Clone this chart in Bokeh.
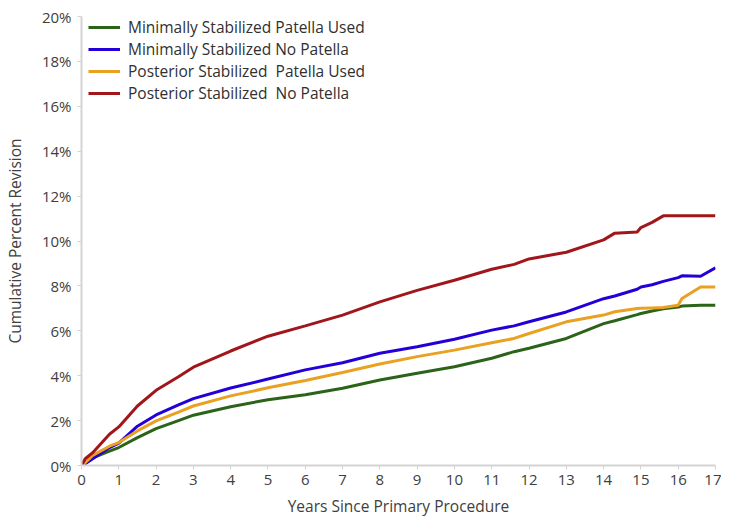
from bokeh.plotting import figure
from bokeh.models import Range1d, FixedTicker, PrintfTickFormatter, Legend, LegendItem
from bokeh.embed import file_html
from bokeh.resources import INLINE

years = [0, 0.1, 0.3, 0.75, 1, 1.5, 2, 2.6, 3, 4, 5, 6, 7, 8, 9, 10, 11, 11.6, 12, 13, 14,
         14.3, 14.9, 15, 15.3, 15.6, 16, 16.1, 16.6, 17]

ms_patella = [0, 0.10, 0.34, 0.64, 0.80, 1.24, 1.64, 2.00, 2.24, 2.62, 2.93, 3.15, 3.44, 3.81, 4.11, 4.40,
              4.78, 5.07, 5.22, 5.66, 6.32, 6.45, 6.72, 6.77, 6.88, 6.98, 7.06, 7.10, 7.14, 7.14]
ms_nopatella = [0, 0.08, 0.30, 0.80, 1.00, 1.75, 2.25, 2.70, 2.98, 3.45, 3.85, 4.26, 4.58, 5.00, 5.29, 5.62,
                6.03, 6.22, 6.40, 6.84, 7.43, 7.55, 7.85, 7.95, 8.05, 8.20, 8.37, 8.45, 8.43, 8.81]
ps_patella = [0, 0.12, 0.45, 0.86, 1.02, 1.54, 1.99, 2.38, 2.65, 3.10, 3.46, 3.79, 4.14, 4.52, 4.85, 5.14,
              5.47, 5.66, 5.88, 6.40, 6.70, 6.85, 6.99, 7.00, 7.02, 7.04, 7.14, 7.44, 7.95, 7.95]
ps_nopatella = [0, 0.30, 0.57, 1.39, 1.72, 2.65, 3.35, 3.95, 4.38, 5.10, 5.76, 6.22, 6.70, 7.29, 7.80, 8.25,
                8.74, 8.96, 9.20, 9.50, 10.05, 10.35, 10.40, 10.60, 10.83, 11.12, 11.12, 11.12, 11.12, 11.12]

series_names = ["Minimally Stabilized Patella Used", "Minimally Stabilized No Patella",
                "Posterior Stabilized  Patella Used", "Posterior Stabilized  No Patella"]
series_colors = ["#2b6419", "#2400d8", "#eaa020", "#a0161a"]

x_ticks = list(range(0, 18))
y_ticks = list(range(0, 21, 2))

FONT = "Open Sans"
TXT = "#404040"
FRAME_H = 449

p = figure(frame_width=634, frame_height=FRAME_H, output_backend="svg", toolbar_location=None,
           x_range=Range1d(0, 17), y_range=Range1d(0, 20),
           min_border_left=73, min_border_right=6, min_border_top=16, min_border_bottom=10)
p.outline_line_color = None
p.grid.grid_line_color = None
p.background_fill_color = "white"

items = []
for vals, name, col in zip([ms_patella, ms_nopatella, ps_patella, ps_nopatella], series_names, series_colors):
    r = p.line(years, vals, line_color=col, line_width=3)
    items.append(LegendItem(label=name, renderers=[r]))

ROW = 20
legend = Legend(items=items, border_line_color=None,
                background_fill_alpha=0, label_text_font=FONT, label_text_font_size="15.5px",
                label_text_color="#303030", glyph_width=32, glyph_height=ROW, spacing=-1,
                label_height=ROW, padding=0, margin=0, label_standoff=8,
                location=(7, FRAME_H - 4 * ROW - 8))
p.add_layout(legend)

p.xaxis.ticker = FixedTicker(ticks=x_ticks)
p.yaxis.ticker = FixedTicker(ticks=y_ticks)
p.yaxis.formatter = PrintfTickFormatter(format="%d%%")
for ax in [p.xaxis[0], p.yaxis[0]]:
    ax.axis_line_color = "#d4d4d4"
    ax.axis_line_width = 2
    ax.major_tick_line_color = "#d4d4d4"
    ax.major_tick_in = 0
    ax.major_tick_out = 4
    ax.minor_tick_line_color = None
    ax.major_label_text_font = FONT
    ax.major_label_text_font_size = "15px"
    ax.major_label_text_color = TXT
    ax.axis_label_text_font = FONT
    ax.axis_label_text_font_size = "15.5px"
    ax.axis_label_text_color = TXT
    ax.axis_label_text_font_style = "normal"

p.xaxis.axis_label = "Years Since Primary Procedure"
p.yaxis.axis_label = "Cumulative Percent Revision"
p.xaxis.major_label_standoff = 5
p.xaxis.axis_label_standoff = 7
p.yaxis.major_label_standoff = 6
p.yaxis.axis_label_standoff = 13

open("out.html", "w").write(file_html(p, INLINE))
